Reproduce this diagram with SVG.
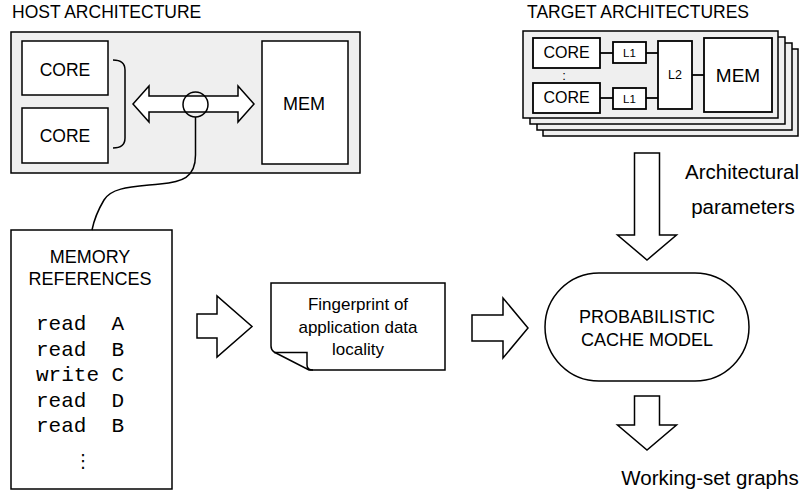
<svg xmlns="http://www.w3.org/2000/svg" width="804" height="500" viewBox="0 0 804 500">
  <style>
    text { font-family: "Liberation Sans", Arial, Helvetica, sans-serif; fill: #000; }
    .mid { text-anchor: middle; }
    .mono { font-family: "Liberation Mono", "Courier New", monospace; font-size: 21px; }
    .panel { fill: #efefef; stroke: #000; stroke-width: 1.5; }
    .box { fill: #fff; stroke: #000; stroke-width: 1.5; }
    .tbox { fill: #fff; stroke: #000; stroke-width: 1.8; }
    .line { fill: none; stroke: #000; stroke-width: 1.5; }
    .tline { fill: none; stroke: #000; stroke-width: 1.8; }
    .arrow { fill: #fff; stroke: #000; stroke-width: 1.5; stroke-linejoin: miter; }
  </style>

  <!-- Host machine -->
  <g id="host">
    <text x="12" y="18" font-size="17.5">HOST ARCHITECTURE</text>
    <rect class="panel" x="11" y="32" width="349" height="141"/>
    <g id="host-core-1">
      <rect class="box" x="22" y="41" width="86" height="54"/>
      <text class="mid" x="65" y="76" font-size="17.5">CORE</text>
    </g>
    <g id="host-core-2">
      <rect class="box" x="22" y="108" width="86" height="55"/>
      <text class="mid" x="65" y="142" font-size="17.5">CORE</text>
    </g>
    <path class="line" d="M113,60 Q125,60 125,70 L125,138 Q125,148 113,148"/>
    <polygon id="host-bus" class="arrow" points="133,104 149,86 149,96 238,96 238,86 254,104 238,122 238,112 149,112 149,122"/>
    <circle class="line" cx="195.5" cy="104.5" r="12.5"/>
    <g id="host-mem">
      <rect class="box" x="262" y="41" width="86" height="123"/>
      <text class="mid" x="304" y="110" font-size="18">MEM</text>
    </g>
  </g>

  <!-- Target machines (stacked) -->
  <g id="target">
    <text x="527" y="18" font-size="17.5">TARGET ARCHITECTURES</text>
    <rect class="panel" x="543" y="49" width="255" height="87"/>
    <rect class="panel" x="537" y="43" width="255" height="87"/>
    <rect class="panel" x="530" y="37" width="255" height="87"/>
    <rect class="panel" x="523" y="31" width="255" height="87"/>
    <g id="target-core-1">
      <rect class="tbox" x="533" y="38" width="67" height="30"/>
      <text class="mid" x="566.5" y="58" font-size="16">CORE</text>
    </g>
    <text class="mid" x="564" y="80" font-size="13">:</text>
    <g id="target-core-2">
      <rect class="tbox" x="533" y="83" width="67" height="30"/>
      <text class="mid" x="566.5" y="103" font-size="16">CORE</text>
    </g>
    <g id="target-l1-1">
      <rect class="tbox" x="613" y="42" width="33" height="21"/>
      <text class="mid" x="629.5" y="57" font-size="11.5">L1</text>
    </g>
    <g id="target-l1-2">
      <rect class="tbox" x="613" y="88" width="33" height="21"/>
      <text class="mid" x="629.5" y="103" font-size="11.5">L1</text>
    </g>
    <g id="target-l2">
      <rect class="tbox" x="658" y="41" width="34" height="68"/>
      <text class="mid" x="675" y="79" font-size="12.5">L2</text>
    </g>
    <g id="target-mem">
      <rect class="tbox" x="704" y="38" width="68" height="74"/>
      <text class="mid" x="738" y="82" font-size="19">MEM</text>
    </g>
  </g>

  <!-- Memory reference trace -->
  <g id="memory-references">
    <rect class="box" x="11" y="230" width="161" height="259"/>
    <text class="mid" x="90" y="263" font-size="18">MEMORY</text>
    <text class="mid" x="90" y="285" font-size="18">REFERENCES</text>
    <text class="mono" x="36" y="330" xml:space="preserve">read  A</text>
    <text class="mono" x="36" y="355.5" xml:space="preserve">read  B</text>
    <text class="mono" x="36" y="381" xml:space="preserve">write C</text>
    <text class="mono" x="36" y="406.5" xml:space="preserve">read  D</text>
    <text class="mono" x="36" y="432" xml:space="preserve">read  B</text>
    <text class="mid" x="83" y="467" font-size="18" style="font-family:'DejaVu Sans', sans-serif">⋮</text>
  </g>

  <!-- Locality fingerprint (note with curled corner) -->
  <g id="fingerprint">
    <path class="box" d="M271,283 H445 V370 H309 L274,352 Q271,350 271,346 Z"/>
    <path class="line" d="M274,352.5 H307 V365 Q307,370 313,370"/>
    <text class="mid" x="358" y="310" font-size="17">Fingerprint of</text>
    <text class="mid" x="358" y="333" font-size="17">application data</text>
    <text class="mid" x="358" y="355" font-size="17">locality</text>
  </g>

  <!-- Cache model -->
  <g id="cache-model">
    <rect class="box" x="545" y="273" width="204" height="108" rx="54" ry="54"/>
    <text class="mid" x="647" y="323" font-size="18">PROBABILISTIC</text>
    <text class="mid" x="647" y="346" font-size="18">CACHE MODEL</text>
  </g>

  <!-- Labels -->
  <g id="labels">
    <text class="mid" x="742" y="179" font-size="20.5">Architectural</text>
    <text class="mid" x="743" y="214" font-size="20.5">parameters</text>
    <text class="mid" x="710" y="485" font-size="20.5">Working-set graphs</text>
  </g>

  <!-- Connectors -->
  <g id="connectors">
    <line class="tline" x1="600" y1="53" x2="613" y2="53"/>
    <line class="tline" x1="646" y1="53" x2="658" y2="53"/>
    <line class="tline" x1="600" y1="98" x2="613" y2="98"/>
    <line class="tline" x1="646" y1="98" x2="658" y2="98"/>
    <line class="tline" x1="692" y1="75" x2="704" y2="75"/>
    <path class="line" d="M195.5,117 L195.5,155 C195.5,178 182,182 160,184 C132,187 112,187 104,200 C98,210 94,220 92,230"/>
    <polygon class="arrow" points="197,314 217,314 217,296 252,326.5 217,357 217,338 197,338"/>
    <polygon class="arrow" points="472,315 503,315 503,298 528,328 503,358 503,341 472,341"/>
    <polygon class="arrow" points="634.5,153 659.5,153 659.5,235 676.5,235 647,260 617.5,235 634.5,235"/>
    <polygon class="arrow" points="634.5,396 659.5,396 659.5,425 676.5,425 647,450 617.5,425 634.5,425"/>
  </g>
</svg>
